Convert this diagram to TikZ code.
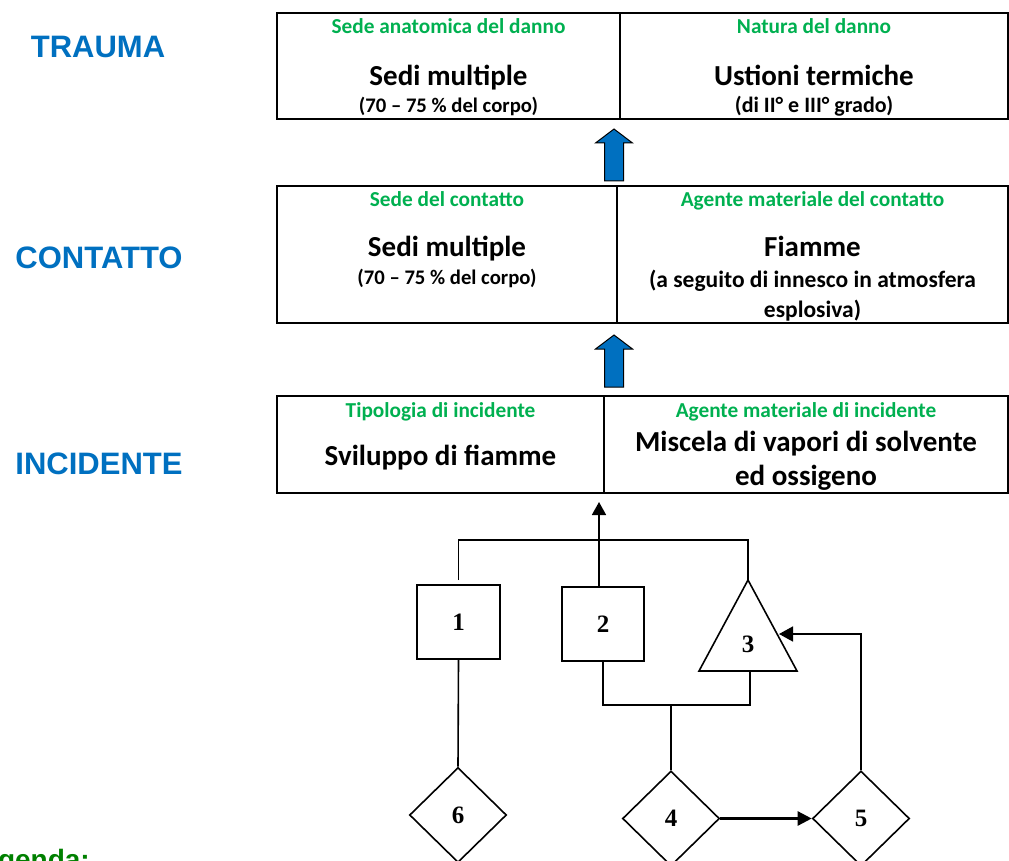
\documentclass[tikz,border=0pt]{standalone}
\usepackage{fontspec}
\setmainfont{Carlito}
\newfontfamily\labfont{Liberation Sans}
\newfontfamily\numfont{Liberation Serif}
\usetikzlibrary{shapes.geometric,arrows.meta}
\definecolor{lblue}{HTML}{0070C0}
\definecolor{lgreen}{HTML}{00B050}
\definecolor{dgreen}{HTML}{008000}
\tikzset{
  cell/.style={draw, line width=1.9pt, inner sep=0pt},
  greenlbl/.style={text=lgreen, anchor=base, inner sep=0pt, font=\fontsize{21.3}{25}\selectfont\bfseries},
  bigtxt/.style={anchor=base, inner sep=0pt, font=\fontsize{29}{34}\selectfont\bfseries},
  smalltxt/.style={anchor=base, inner sep=0pt, font=\fontsize{20.7}{24}\selectfont\bfseries},
  midtxt/.style={anchor=base, inner sep=0pt, font=\fontsize{23.5}{28}\selectfont\bfseries},
  level/.style={text=lblue, anchor=base, inner sep=0pt, font=\labfont\bfseries\fontsize{31}{36}\selectfont},
  blockarr/.style={draw=black, line width=1pt, fill=lblue, line join=miter},
  num/.style={inner sep=0pt, font=\numfont\bfseries\fontsize{25}{30}\selectfont},
  sq/.style={draw, line width=1.6pt, minimum width=83pt, minimum height=74pt, num},
  dia/.style={diamond, draw, line width=1.6pt, minimum width=97pt, minimum height=95pt, num},
  conn/.style={line width=1.6pt}
}
\begin{document}
\begin{tikzpicture}[x=1pt,y=-1pt]
\useasboundingbox (0,0) rectangle (1009,861);
\clip (0,0) rectangle (1009,861);

% level labels
\node[level] (lTrauma) at (98,58) {TRAUMA};
\node[level] (lContatto) at (99,268) {CONTATTO};
\node[level] (lIncidente) at (99,474) {INCIDENTE};

% TRAUMA row
\node[cell, minimum width=343pt, minimum height=106pt] (tL) at (448.5,66) {};
\node[cell, minimum width=388pt, minimum height=106pt] (tR) at (814,66) {};
\node[greenlbl] (tLg) at (448.5,34) {Sede anatomica del danno};
\node[greenlbl] (tRg) at (814,34) {Natura del danno};
\node[bigtxt] (tLb) at (448.5,86) {Sedi multiple};
\node[bigtxt] (tRb) at (814,86) {Ustioni termiche};
\node[smalltxt] (tLs) at (448.5,113) {(70 -- 75 \% del corpo)};
\node[smalltxt, font=\fontsize{22}{26}\selectfont\bfseries] (tRs) at (814,113) {(di II° e III° grado)};

% CONTATTO row
\node[cell, minimum width=340pt, minimum height=137pt] (cL) at (447,254.5) {};
\node[cell, minimum width=391pt, minimum height=137pt] (cR) at (812.5,254.5) {};
\node[greenlbl] (cLg) at (447,207) {Sede del contatto};
\node[greenlbl] (cRg) at (812.5,207) {Agente materiale del contatto};
\node[bigtxt] (cLb) at (447,256) {Sedi multiple};
\node[bigtxt] (cRb) at (812.5,256) {Fiamme};
\node[smalltxt] (cLs) at (447,284) {(70 -- 75 \% del corpo)};
\node[midtxt] (cRs1) at (812.5,287) {(a seguito di innesco in atmosfera};
\node[midtxt] (cRs2) at (812.5,317) {esplosiva)};

% INCIDENTE row
\node[cell, minimum width=327pt, minimum height=97pt] (iL) at (440.5,444.5) {};
\node[cell, minimum width=404pt, minimum height=97pt] (iR) at (806,444.5) {};
\node[greenlbl] (iLg) at (440.5,417) {Tipologia di incidente};
\node[greenlbl] (iRg) at (806,417) {Agente materiale di incidente};
\node[bigtxt] (iLb) at (440.5,465) {Sviluppo di fiamme};
\node[bigtxt] (iRb1) at (806,451) {Miscela di vapori di solvente};
\node[bigtxt] (iRb2) at (806,485) {ed ossigeno};

% blue block arrows
\coordinate (a1tip) at (614,129);
\coordinate (a2tip) at (614,335);
\draw[blockarr] (a1tip) -- ++(18.5,14) -- ++(-9,0) -- ++(0,38) -- ++(-19,0) -- ++(0,-38) -- ++(-9,0) -- cycle;
\draw[blockarr] (a2tip) -- ++(18.5,14) -- ++(-9,0) -- ++(0,38) -- ++(-19,0) -- ++(0,-38) -- ++(-9,0) -- cycle;

% lower diagram
\node[sq] (b1) at (458.5,622) {1};
\node[sq, minimum width=82pt] (b2) at (603,624) {2};
\coordinate (t3a) at (748,580);
\coordinate (t3l) at (699,671);
\coordinate (t3r) at (797,671);
\coordinate (t3b) at (750,671);
\draw[conn, line join=miter] (t3a) -- (t3r) -- (t3l) -- cycle;
\node[num] (t3) at (748,644) {3};
\node[dia] (d6) at (458,815) {6};
\node[dia] (d4) at (671,818.5) {4};
\node[dia] (d5) at (861,818.5) {5};

\coordinate (inTip) at (599,502);
\coordinate (hub) at (599,540);
\coordinate (low) at (671,705);
\coordinate (t3e) at (779,634);

\draw[conn] ([yshift=4pt]b1.north) |- (hub) -| (t3a);
\draw[conn, -{Triangle[length=13pt,width=14pt]}] (b2.north -| inTip) -- (inTip);
\draw[conn] (b2.south) |- (low) -| (t3b);
\draw[conn] (d4.north) -- (d4.north |- low);
\draw[conn] (b1.south) -- (d6.north);
\draw[conn, line width=2.4pt, -{Triangle[length=14pt,width=14pt]}] (d4.east) -- (d5.west);
\draw[conn, -{Triangle[length=14pt,width=15pt]}] (d5.north) |- (t3e);

% legend (cut off at the lower edge, as in the reference)
\node[anchor=base east, inner sep=0pt, text=dgreen, font=\labfont\bfseries\fontsize{28}{32}\selectfont] (leg) at (90,869) {Legenda:};
\end{tikzpicture}
\end{document}
